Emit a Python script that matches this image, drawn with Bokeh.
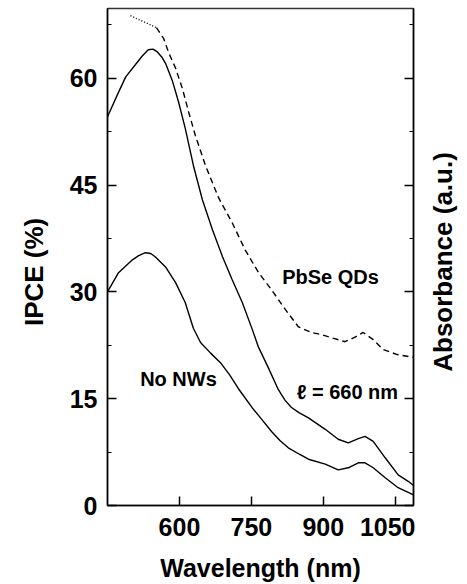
import math
from bokeh.plotting import figure
from bokeh.layouts import row
from bokeh.models import Range1d, LinearAxis, FixedTicker, Label, CustomJSTickFormatter
from bokeh.embed import file_html
from bokeh.resources import INLINE

# ---- data ----
l660_wl = [450, 470, 488, 508, 522, 535, 545, 554, 563, 571, 585, 598, 612, 630, 648,
           669, 690, 710, 731, 752, 765, 785, 806, 820, 833, 850, 869, 904, 931, 952, 973, 987,
           1004, 1029, 1056, 1077, 1088]
l660_ipce = [54.6, 57.6, 60.2, 61.9, 63.1, 64.0, 64.1, 63.7, 63.0, 62.1, 59.7, 56.7, 53.0, 47.5, 42.9,
             38.7, 34.9, 31.7, 28.5, 24.7, 22.2, 19.4, 16.3, 14.8, 13.8, 13.0, 12.3, 10.7, 9.3, 8.8, 9.4, 9.7,
             9.0, 6.7, 4.3, 3.4, 2.8]

nonw_wl = [450, 473, 502, 515, 529, 540, 550, 571, 592, 612, 629, 644, 665, 685, 705, 723,
           752, 769, 792, 810, 827, 850, 869, 904, 931, 952, 973, 987, 1004, 1029, 1056, 1088]
nonw_ipce = [30.0, 32.7, 34.5, 35.1, 35.5, 35.4, 34.9, 33.5, 31.3, 28.5, 24.9, 22.9, 21.4, 20.1, 18.3, 16.4,
             13.7, 12.3, 10.4, 9.1, 8.1, 7.2, 6.5, 5.8, 5.0, 5.3, 6.0, 6.0, 5.3, 3.9, 2.5, 1.5]

pbse_wl = [498, 510, 520, 530, 540, 552, 567, 577, 592, 606, 619, 633, 654, 681, 710, 737,
           765, 792, 821, 848, 875, 896, 920, 945, 965, 983, 1004, 1025, 1054, 1088]
pbse_abs = [68.8, 68.4, 68.1, 67.8, 67.5, 67.1, 65.6, 63.7, 61.4, 58.6, 55.3, 52.0, 47.8, 43.3, 39.7, 35.9,
            32.7, 30.3, 27.5, 25.1, 24.3, 24.0, 23.5, 23.0, 23.6, 24.3, 23.3, 21.9, 21.2, 20.8]

x_ticks = [600, 750, 900, 1050]
y_ticks = [0, 15, 30, 45, 60]
y_minor = [7.5, 22.5, 37.5, 52.5, 67.5]

FONT = "Liberation Sans"

p = figure(width=362, height=584, output_backend="svg", toolbar_location=None,
           x_range=Range1d(450, 1088), y_range=Range1d(0, 69.8),
           min_border_left=54, min_border_right=2, min_border_top=8, min_border_bottom=78)
p.extra_y_ranges = {"abs": Range1d(0, 69.8)}
p.xgrid.visible = False
p.ygrid.visible = False
p.outline_line_color = "#333333"
p.outline_line_width = 1.5
p.background_fill_color = "white"
p.border_fill_color = "white"

# curves
p.line(l660_wl, l660_ipce, line_color="black", line_width=1.4)
p.line(nonw_wl, nonw_ipce, line_color="black", line_width=1.4)
p.line(pbse_wl[:6], pbse_abs[:6], line_color="black", line_width=1.4, line_dash="1 2",
       y_range_name="abs")
p.line(pbse_wl[5:], pbse_abs[5:], line_color="black", line_width=1.4, line_dash="6 4",
       y_range_name="abs")

# x axis
xa = p.xaxis[0]
xa.ticker = FixedTicker(ticks=x_ticks)
xa.axis_label = "Wavelength (nm)"
xa.axis_label_text_font = FONT
xa.axis_label_text_font_style = "bold"
xa.axis_label_text_font_size = "25px"
xa.axis_label_text_color = "black"
xa.axis_label_standoff = 15
xa.major_label_text_font = FONT
xa.major_label_text_font_style = "bold"
xa.major_label_text_font_size = "25px"
xa.major_label_text_color = "black"
xa.major_label_standoff = 12
xa.major_tick_in = 9
xa.major_tick_out = 0
xa.minor_tick_line_color = None
xa.axis_line_width = 1.5
xa.major_tick_line_width = 1.5

# left axis (title drawn in the left panel)
ya = p.yaxis[0]
ya.ticker = FixedTicker(ticks=y_ticks, minor_ticks=y_minor)
ya.major_label_text_font = FONT
ya.major_label_text_font_style = "bold"
ya.major_label_text_font_size = "25px"
ya.major_label_text_color = "black"
ya.major_label_standoff = 10
ya.major_tick_in = 9
ya.major_tick_out = 0
ya.minor_tick_in = 4
ya.minor_tick_out = 0
ya.axis_line_width = 1.5
ya.major_tick_line_width = 1.5

# right axis (absorbance, unlabeled ticks)
ra = LinearAxis(y_range_name="abs",
                ticker=FixedTicker(ticks=y_ticks, minor_ticks=y_minor),
                formatter=CustomJSTickFormatter(code="return '';"))
ra.major_label_standoff = 0
ra.major_tick_in = 9
ra.major_tick_out = 0
ra.minor_tick_in = 4
ra.minor_tick_out = 0
ra.axis_line_width = 1.5
ra.major_tick_line_width = 1.5
p.add_layout(ra, "right")

# annotations
for txt, x, y in [("PbSe QDs", 915, 32.1), ("No NWs", 598, 17.7), ("\u2113 = 660 nm", 950, 16.0)]:
    p.add_layout(Label(x=x, y=y, text=txt, text_align="center", text_baseline="middle",
                       text_font=FONT, text_font_style="bold", text_font_size="20px",
                       text_color="black"))


def title_panel(width, text, fx, fy):
    f = figure(width=width, height=584, output_backend="svg", toolbar_location=None,
               x_range=Range1d(0, 1), y_range=Range1d(0, 1), min_border=0,
               x_axis_type=None, y_axis_type=None)
    f.outline_line_color = None
    f.background_fill_color = "white"
    f.border_fill_color = "white"
    f.add_layout(Label(x=fx, y=fy, text=text, angle=math.pi / 2,
                       text_align="center", text_baseline="middle",
                       text_font=FONT, text_font_style="bold", text_font_size="26px",
                       text_color="black"))
    return f


left = title_panel(53, "IPCE (%)", 0.64, 0.47)
side = title_panel(52, "Absorbance (a.u.)", 0.52, 0.49)

layout = row(left, p, side, spacing=0)
open("out.html", "w").write(file_html(layout, INLINE))
